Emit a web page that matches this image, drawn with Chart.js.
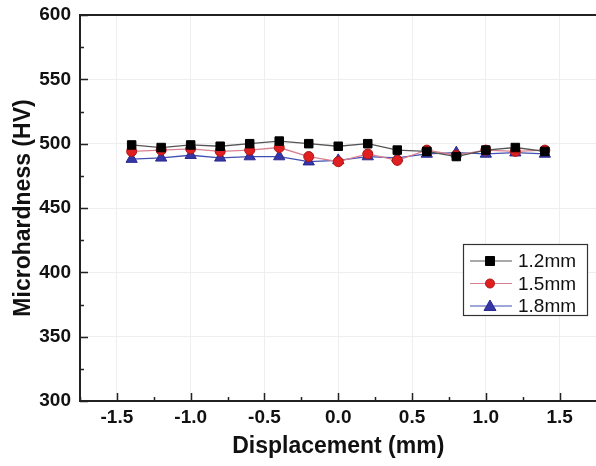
<!DOCTYPE html>
<html>
<head>
<meta charset="utf-8">
<script src="https://cdn.jsdelivr.net/npm/chart.js@4"></script>
<style>
  html, body { margin: 0; padding: 0; background: #fff; overflow: hidden; }
  #wrap { position: absolute; left: 0; top: 0; width: 604px; height: 466px; }
</style>
</head>
<body>
<div id="wrap"><canvas id="chart"></canvas></div>
<script>
const displacement = [-1.4, -1.2, -1.0, -0.8, -0.6, -0.4, -0.2, 0.0, 0.2, 0.4, 0.6, 0.8, 1.0, 1.2, 1.4];
const hv12 = [499, 497, 499, 498, 500, 502, 500, 498, 500, 495, 494, 490, 495, 497, 494];
const hv15 = [494, 495, 496, 494, 495, 497, 490, 486, 492, 487, 495, 491, 495, 494, 495];
const hv18 = [488, 489, 491, 489, 490, 490, 486, 487, 490, 489, 492, 493, 492, 493, 492];
const seriesNames = ['1.2mm', '1.5mm', '1.8mm'];
const xTicks = [-1.5, -1.0, -0.5, 0.0, 0.5, 1.0, 1.5];
const xMinor = [-1.75, -1.25, -0.75, -0.25, 0.25, 0.75, 1.25, 1.75];
const yTicks = [300, 350, 400, 450, 500, 550, 600];
const yMinor = [325, 375, 425, 475, 525, 575];

const FONT = 'Liberation Sans, Arial, sans-serif';

function points(ys) {
    return displacement.map((x, i) => ({ x: x, y: ys[i] }));
}

// ticks inside the frame, top border line, and the legend box
const framePlugin = {
    id: 'frame',
    afterDraw(chart) {
        const ctx = chart.ctx;
        const area = chart.chartArea;
        const xs = chart.scales.x;
        const ys = chart.scales.y;
        ctx.save();
        ctx.strokeStyle = '#222';
        ctx.lineWidth = 2;
        ctx.beginPath();
        ctx.moveTo(area.left, area.top);
        ctx.lineTo(area.right, area.top);
        ctx.stroke();

        ctx.lineWidth = 1.5;
        ctx.beginPath();
        xTicks.forEach(v => {
            const px = Math.round(xs.getPixelForValue(v)) + 0.5;
            ctx.moveTo(px, area.bottom); ctx.lineTo(px, area.bottom - 8);
        });
        xMinor.forEach(v => {
            const px = Math.round(xs.getPixelForValue(v)) + 0.5;
            ctx.moveTo(px, area.bottom); ctx.lineTo(px, area.bottom - 4);
        });
        yTicks.forEach(v => {
            const py = Math.round(ys.getPixelForValue(v)) + 0.5;
            ctx.moveTo(area.left, py); ctx.lineTo(area.left + 8, py);
        });
        yMinor.forEach(v => {
            const py = Math.round(ys.getPixelForValue(v)) + 0.5;
            ctx.moveTo(area.left, py); ctx.lineTo(area.left + 4, py);
        });
        ctx.stroke();

        // legend
        const bx = 463, by = 244, bw = 124, bh = 71;
        ctx.lineWidth = 1.2;
        ctx.strokeStyle = '#333';
        ctx.fillStyle = '#fff';
        ctx.fillRect(bx, by, bw, bh);
        ctx.strokeRect(bx + 0.5, by + 0.5, bw, bh);
        chart.data.datasets.forEach((ds, i) => {
            const cy = by + 17 + i * 22.5;
            ctx.strokeStyle = ds.borderColor;
            ctx.lineWidth = 1.2;
            ctx.beginPath();
            ctx.moveTo(bx + 7, cy); ctx.lineTo(bx + 49, cy);
            ctx.stroke();
            ctx.fillStyle = ds.pointBackgroundColor;
            ctx.strokeStyle = ds.pointBorderColor;
            ctx.lineWidth = 1;
            const mx = bx + 27;
            ctx.beginPath();
            if (ds.pointStyle === 'rect') {
                ctx.rect(mx - 4.5, cy - 4.5, 9, 9);
            } else if (ds.pointStyle === 'circle') {
                ctx.arc(mx, cy, 4.5, 0, Math.PI * 2);
            } else {
                ctx.moveTo(mx, cy - 6); ctx.lineTo(mx + 6, cy + 4.5); ctx.lineTo(mx - 6, cy + 4.5); ctx.closePath();
            }
            ctx.fill(); ctx.stroke();
            ctx.fillStyle = '#111';
            ctx.font = '19px ' + FONT;
            ctx.textBaseline = 'middle';
            ctx.fillText(ds.label, bx + 55, cy + 1);
        });
        ctx.restore();
    }
};

const data = {
    datasets: [{
        label: seriesNames[0],
        data: points(hv12),
        borderColor: '#555555',
        pointBackgroundColor: '#000000',
        pointBorderColor: '#000000',
        pointStyle: 'rect',
        pointRadius: 6
    }, {
        label: seriesNames[1],
        data: points(hv15),
        borderColor: '#d88090',
        pointBackgroundColor: '#e02020',
        pointBorderColor: '#b01515',
        pointStyle: 'circle',
        pointRadius: 5
    }, {
        label: seriesNames[2],
        data: points(hv18),
        borderColor: '#4050b0',
        pointBackgroundColor: '#3535a5',
        pointBorderColor: '#2a2a90',
        pointStyle: 'triangle',
        pointRadius: 6.5
    }]
};

const config = {
    type: 'scatter',
    data: data,
    options: {
        responsive: true,
        maintainAspectRatio: false,
        animation: false,
        layout: { padding: { top: 15, right: 0, left: 0, bottom: 0 } },
        datasets: { scatter: { showLine: true, borderWidth: 1.3, pointBorderWidth: 1 } },
        plugins: { legend: { display: false }, tooltip: { enabled: false } },
        scales: {
            x: {
                type: 'linear',
                min: -1.75,
                max: 1.75,
                afterBuildTicks: axis => { axis.ticks = xTicks.map(v => ({ value: v })); },
                afterFit: axis => { axis.height = 65; axis.paddingLeft = 0; axis.paddingRight = 0; },
                ticks: {
                    color: '#111',
                    font: { family: FONT, size: 19, weight: 'bold' },
                    padding: 5,
                    maxRotation: 0,
                    callback: v => v.toFixed(1)
                },
                grid: { color: '#eeeeee', drawTicks: false },
                border: { color: '#222', width: 2 },
                title: {
                    display: true,
                    text: 'Displacement (mm)',
                    color: '#111',
                    font: { family: FONT, size: 23, weight: 'bold' },
                    padding: { top: 0, bottom: 6 }
                }
            },
            y: {
                min: 300,
                max: 600,
                afterBuildTicks: axis => { axis.ticks = yTicks.map(v => ({ value: v })); },
                afterFit: axis => { axis.width = 80; axis.paddingTop = 0; axis.paddingBottom = 0; },
                ticks: {
                    color: '#111',
                    font: { family: FONT, size: 19, weight: 'bold' },
                    padding: 9
                },
                grid: { color: '#eeeeee', drawTicks: false },
                border: { color: '#222', width: 2 },
                title: {
                    display: true,
                    text: 'Microhardness (HV)',
                    color: '#111',
                    font: { family: FONT, size: 23, weight: 'bold' },
                    padding: { bottom: 0, top: 10 }
                }
            }
        }
    },
    plugins: [framePlugin]
};

const chart = new Chart(document.getElementById('chart'), config);
</script>
</body>
</html>
